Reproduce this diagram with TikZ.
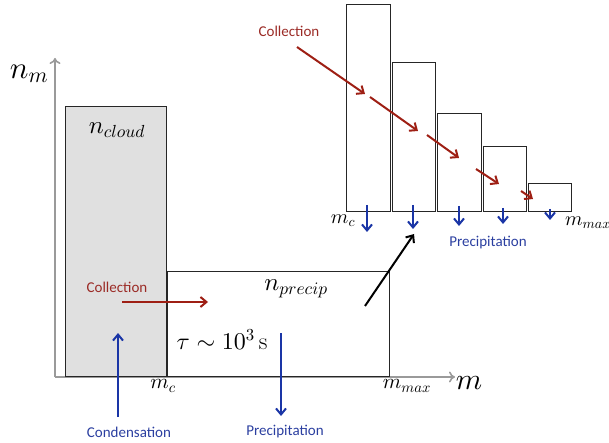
\documentclass[tikz,border=0pt]{standalone}
\usepackage{fontspec}
\setsansfont{Carlito}
\DeclareFontShape{OML}{cmm}{m}{it}{<->cmmi10}{}
\DeclareFontShape{OMS}{cmsy}{m}{n}{<->cmsy10}{}
\DeclareFontShape{OT1}{cmr}{m}{n}{<->cmr10}{}
\usetikzlibrary{arrows.meta}
\definecolor{cred}{HTML}{9E1F14}
\definecolor{cblue}{HTML}{1A35A6}
\definecolor{ctred}{HTML}{9B2B26}
\definecolor{ctblue}{HTML}{2B3FA0}
\definecolor{axisgray}{HTML}{9A9A9A}
\definecolor{cloudfill}{HTML}{E0E0E0}
\tikzset{
  axisline/.style={draw=axisgray, line width=2.2pt, -{To[length=6pt,width=11pt,line width=1.6pt]}},
  bin/.style={draw=black!85, line width=1pt},
  redarrow/.style={draw=cred, line width=2pt, -{Straight Barb[length=6pt,width=10pt,line width=2pt]}},
  bluearrow/.style={draw=cblue, line width=2pt, -{Straight Barb[length=6pt,width=10pt,line width=2pt]}},
  blacharrow/.style={draw=black, line width=2pt, -{Straight Barb[length=6pt,width=10pt,line width=2pt]}},
  redtext/.style={text=ctred, font=\sffamily\fontsize{15}{17}\selectfont, inner sep=0pt},
  bluetext/.style={text=ctblue, font=\sffamily\fontsize{15}{17}\selectfont, inner sep=0pt},
  lbl/.style={inner sep=0pt}
}
\begin{document}
\begin{tikzpicture}[x=1pt,y=-1pt]
\useasboundingbox (0,0) rectangle (609,443);
% axes
\coordinate (origin) at (55,377);
\coordinate (ytip) at (55,58);
\coordinate (xtip) at (455,377);
\draw[axisline] (origin) -- (ytip);
\draw[axisline] (origin) -- (xtip);
\node[lbl] (nm) at (29,74) {\fontsize{31}{31}\selectfont$n_m$};
\node[lbl] (mlab) at (469,383) {\fontsize{30}{30}\selectfont$m$};
% main boxes
\draw[bin, fill=cloudfill] (65,107) rectangle (166,376);
\draw[bin] (167,271) rectangle (389,376);
\node[lbl] (ncloud) at (117,130) {\fontsize{25}{25}\selectfont$n_{cloud}$};
\node[lbl] (nprecip) at (296,289) {\fontsize{25}{25}\selectfont$n_{precip}$};
\node[lbl] (tau) at (222,340) {\fontsize{24}{24}\selectfont$\tau\sim10^3\,\mathrm{s}$};
\node[lbl] (mc) at (163,386) {\fontsize{21}{21}\selectfont$m_c$};
\node[lbl] (mmax) at (407,386) {\fontsize{21}{21}\selectfont$m_{max}$};
% collection arrow (main)
\node[redtext] (colL) at (117,287) {Collection};
\coordinate (c1s) at (122,302);
\coordinate (c1e) at (208,302);
\draw[redarrow] (c1s) -- (c1e);
% condensation
\node[bluetext] (cond) at (129,432) {Condensation};
\coordinate (cds) at (118,417);
\coordinate (cde) at (118,333);
\draw[bluearrow] (cds) -- (cde);
% precipitation main
\node[bluetext] (precL) at (285,432) {Precipitation};
\coordinate (ps) at (281,333);
\coordinate (pe) at (281,416);
\draw[bluearrow] (ps) -- (pe);
% black arrow to inset
\coordinate (bs) at (365,306);
\coordinate (be) at (414,234);
\draw[blacharrow] (bs) -- (be);
% inset bins
\draw[bin] (346,5) rectangle (390,212);
\draw[bin] (392,63) rectangle (435,212);
\draw[bin] (437,114) rectangle (481,212);
\draw[bin] (483,147) rectangle (526,212);
\draw[bin] (528,184) rectangle (571,212);
\node[lbl] (imc) at (343,221) {\fontsize{20}{20}\selectfont$m_c$};
\node[lbl] (immax) at (588,223) {\fontsize{20}{20}\selectfont$m_{max}$};
\node[bluetext] (iprec) at (488,243) {Precipitation};
\node[redtext] (icol) at (289,31) {Collection};
% inset collection arrows
\draw[redarrow] (297,47) -- (365,94);
\draw[redarrow] (370,97) -- (418,131);
\draw[redarrow] (427,135) -- (459,158);
\draw[redarrow] (476,169) -- (499,184);
\draw[redarrow] (521,191) -- (533,199);
% inset precipitation arrows
\draw[bluearrow] (367,205) -- (367,232);
\draw[bluearrow] (413,205) -- (413,229);
\draw[bluearrow] (459,206) -- (459,226);
\draw[bluearrow] (503,208) -- (503,224);
\draw[bluearrow] (550,209) -- (550,220);
\end{tikzpicture}
\end{document}
